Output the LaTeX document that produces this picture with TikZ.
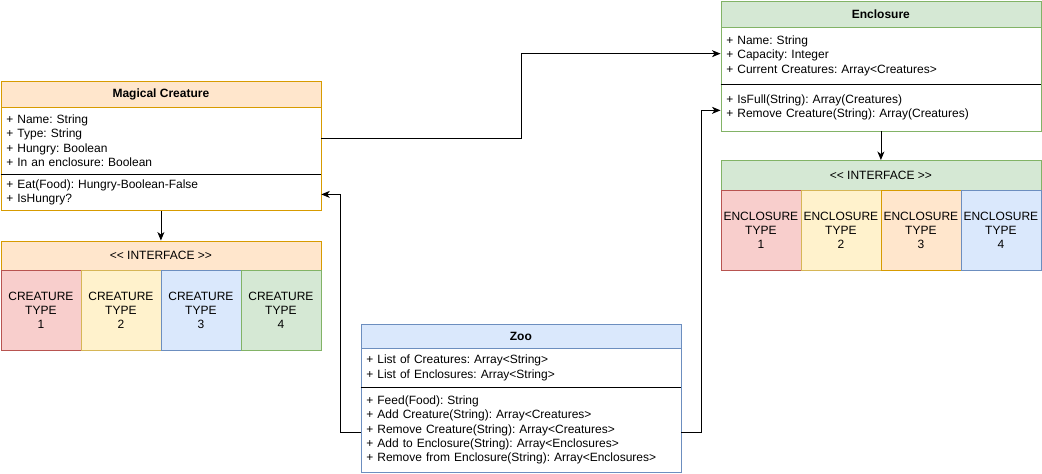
\documentclass[tikz,border=0pt]{standalone}
\usepackage{fontspec}
\setmainfont{Liberation Sans}
\usetikzlibrary{arrows.meta}
\frenchspacing
\definecolor{orgF}{HTML}{FFE6CC}\definecolor{orgD}{HTML}{D79B00}
\definecolor{grnF}{HTML}{D5E8D4}\definecolor{grnD}{HTML}{82B366}
\definecolor{bluF}{HTML}{DAE8FC}\definecolor{bluD}{HTML}{6C8EBF}
\definecolor{redF}{HTML}{F8CECC}\definecolor{redD}{HTML}{B85450}
\definecolor{yelF}{HTML}{FFF2CC}\definecolor{yelD}{HTML}{D6B656}
\begin{document}
\begin{tikzpicture}[x=1pt,y=-1pt,
  every node/.style={font=\fontsize{12}{14.4}\selectfont},
  hdr/.style={draw, anchor=north west, minimum width=320pt, inner sep=0pt, line width=0.8pt},
  sect/.style={draw, fill=white, anchor=north west, minimum width=320pt, text width=309pt,
    align=left, inner xsep=5.5pt, inner ysep=0pt, line width=0.8pt},
  cell/.style={draw, anchor=north west, minimum width=80pt, minimum height=80pt,
    inner sep=0pt, align=center, line width=0.8pt},
  divider/.style={draw=black, line width=0.8pt},
  conn/.style={draw=black, line width=0.8pt, -{Stealth[length=8.5pt,width=7pt,inset=2.5pt]}}]
\useasboundingbox (0,0) rectangle (1042,474);

% Magical Creature class
\node[hdr, fill=orgF, draw=orgD, minimum height=26.2pt, font=\fontsize{12}{14.4}\selectfont\bfseries]
  (mcH) at (0.5,80.5) {Magical Creature};
\node[sect, draw=orgD, minimum height=67.3pt] (mcA) at (0.5,106.7)
  {+ Name: String\\+ Type: String\\+ Hungry: Boolean\\+ In an enclosure: Boolean};
\node[sect, draw=orgD, minimum height=36pt] (mcM) at (0.5,174)
  {+ Eat(Food): Hungry-Boolean-False\\+ IsHungry?};
\draw[divider] (mcA.south west) -- (mcA.south east);

% Creature interface and types
\node[hdr, fill=orgF, draw=orgD, minimum height=29.5pt] (ciH) at (0.5,240.5) {<{}< INTERFACE >{}>};
\node[cell, fill=redF, draw=redD] (ct1) at (0.5,270) {CREATURE\\TYPE\\1};
\node[cell, fill=yelF, draw=yelD] (ct2) at (80.5,270) {CREATURE\\TYPE\\2};
\node[cell, fill=bluF, draw=bluD] (ct3) at (160.5,270) {CREATURE\\TYPE\\3};
\node[cell, fill=grnF, draw=grnD] (ct4) at (240.5,270) {CREATURE\\TYPE\\4};

% Enclosure class
\node[hdr, fill=grnF, draw=grnD, minimum height=26pt, font=\fontsize{12}{14.4}\selectfont\bfseries]
  (encH) at (720.5,0.5) {Enclosure};
\node[sect, draw=grnD, minimum height=57.5pt] (encA) at (720.5,26.5)
  {+ Name: String\\+ Capacity: Integer\\+ Current Creatures: Array<Creatures>};
\node[sect, draw=grnD, minimum height=46.5pt] (encM) at (720.5,84)
  {+ IsFull(String): Array(Creatures)\\+ Remove Creature(String): Array(Creatures)};
\draw[divider] (encA.south west) -- (encA.south east);

% Enclosure interface and types
\node[hdr, fill=grnF, draw=grnD, minimum height=30pt] (eiH) at (720.5,160) {<{}< INTERFACE >{}>};
\node[cell, fill=redF, draw=redD] (et1) at (720.5,190) {ENCLOSURE\\TYPE\\1};
\node[cell, fill=yelF, draw=yelD] (et2) at (800.5,190) {ENCLOSURE\\TYPE\\2};
\node[cell, fill=orgF, draw=orgD] (et3) at (880.5,190) {ENCLOSURE\\TYPE\\3};
\node[cell, fill=bluF, draw=bluD] (et4) at (960.5,190) {ENCLOSURE\\TYPE\\4};

% Zoo class
\node[hdr, fill=bluF, draw=bluD, minimum height=24pt, font=\fontsize{12}{14.4}\selectfont\bfseries]
  (zooH) at (360.5,324) {Zoo};
\node[sect, draw=bluD, minimum height=39pt] (zooA) at (360.5,348)
  {+ List of Creatures: Array<String>\\+ List of Enclosures: Array<String>};
\node[sect, draw=bluD, minimum height=85pt] (zooM) at (360.5,387)
  {+ Feed(Food): String\\+ Add Creature(String): Array<Creatures>\\+ Remove Creature(String): Array<Creatures>\\+ Add to Enclosure(String): Array<Enclosures>\\+ Remove from Enclosure(String): Array<Enclosures>};
\draw[divider] (zooA.south west) -- (zooA.south east);

% Associations
\draw[conn] ([yshift=2.3pt]mcA.east) -- ++(200,0) |- ([yshift=2pt]encA.west);
\draw[conn] ([yshift=-2.5pt]zooM.west) -- ++(-20,0) |- ([yshift=-2pt]mcM.east);
\draw[conn] ([yshift=-2.5pt]zooM.east) -- ++(20,0) |- ([yshift=-2.7pt]encM.west);
\draw[conn] (mcM.south) -- (ciH.north);
\draw[conn] (encM.south) -- (eiH.north);
\end{tikzpicture}
\end{document}
